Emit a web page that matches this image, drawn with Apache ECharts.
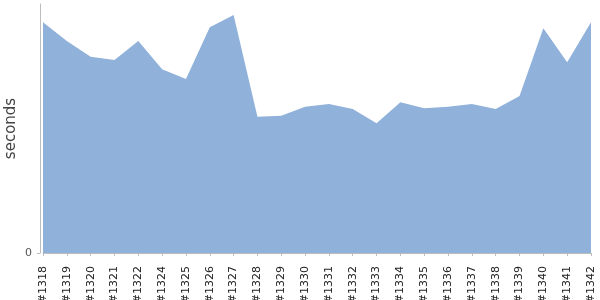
<!DOCTYPE html>
<html>
<head>
<meta charset="utf-8">
<script src="https://cdn.jsdelivr.net/npm/echarts@6/dist/echarts.min.js"></script>
<style>html,body{margin:0;padding:0;background:#fff}#c{width:600px;height:300px}</style>
</head>
<body>
<div id="c"></div>
<script>
var categories = ['#1318','#1319','#1320','#1321','#1322','#1324','#1325','#1326','#1327','#1328','#1329','#1330','#1331','#1332','#1333','#1334','#1335','#1336','#1337','#1338','#1339','#1340','#1341','#1342'];
var durations = [230.7,212,196.3,193,212,183.7,174,225.7,238,136.3,137.3,146.3,149,144,129.7,150.7,144.7,146.3,149,144,157,224.7,190.7,230.7];
var yTickValues = [0];
var yMax = 249;

var chart = echarts.init(document.getElementById('c'), null, {renderer: 'canvas'});
chart.setOption({
  animation: false,
  grid: {left: 43, right: 9, top: 4, bottom: 47, containLabel: false, outerBoundsMode: 'none'},
  xAxis: {
    type: 'category',
    data: categories,
    boundaryGap: false,
    offset: 4,
    axisLine: {show: true, lineStyle: {color: '#bdbdbd', width: 1}},
    axisTick: {show: true, length: 3, interval: 0, lineStyle: {color: '#bdbdbd'}},
    axisLabel: {rotate: 90, interval: 0, fontSize: 11, color: '#222', margin: 9, fontFamily: 'DejaVu Sans'},
    splitLine: {show: false}
  },
  yAxis: {
    type: 'value',
    min: 0,
    max: yMax,
    offset: 3,
    name: 'seconds',
    nameLocation: 'middle',
    nameGap: 21,
    nameMoveOverlap: false,
    nameRotate: 90,
    nameTextStyle: {fontSize: 15, color: '#444', fontFamily: 'DejaVu Sans'},
    axisLine: {show: true, lineStyle: {color: '#bdbdbd', width: 1}},
    axisTick: {show: true, length: 3, customValues: yTickValues, lineStyle: {color: '#bdbdbd'}},
    axisLabel: {customValues: yTickValues, fontSize: 11, color: '#555', margin: 8, fontFamily: 'DejaVu Sans'},
    splitLine: {show: false}
  },
  series: [{
    type: 'line',
    data: durations,
    symbol: 'none',
    lineStyle: {width: 0},
    areaStyle: {color: '#8fb1da', opacity: 1}
  }]
});
</script>
</body>
</html>
